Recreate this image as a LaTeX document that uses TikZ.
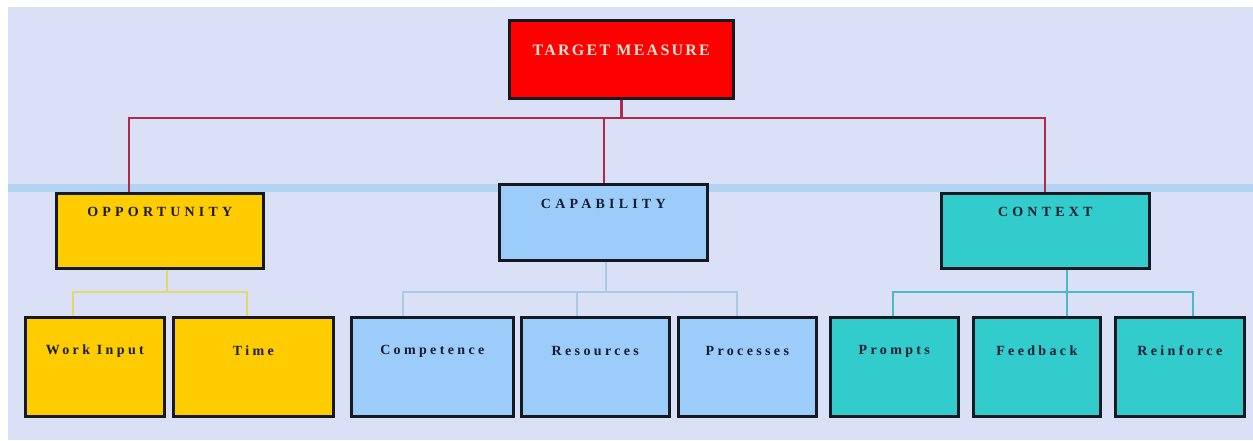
\documentclass[tikz,border=0pt]{standalone}
\usepackage{fontspec}
\setmainfont{Liberation Serif}
\newfontfamily\spacedA{Liberation Serif}[LetterSpace=30]
\newfontfamily\spacedL{Liberation Serif}[LetterSpace=24]
\newfontfamily\spacedB{Liberation Serif}[LetterSpace=14]
\definecolor{bgc}{RGB}{218,224,245}
\definecolor{bandc}{RGB}{178,212,242}
\definecolor{redfill}{RGB}{255,0,0}
\definecolor{goldfill}{RGB}{255,204,0}
\definecolor{bluefill}{RGB}{156,204,250}
\definecolor{tealfill}{RGB}{51,204,204}
\definecolor{redline}{RGB}{178,40,72}
\definecolor{yelline}{RGB}{230,216,106}
\definecolor{bluline}{RGB}{166,203,230}
\definecolor{tealine}{RGB}{79,184,200}
\definecolor{boxedge}{RGB}{22,24,34}
\definecolor{txtdark}{RGB}{24,28,48}
\definecolor{txtlight}{RGB}{248,230,214}
\tikzset{
  box/.style={draw=boxedge, line width=2.6pt, rectangle, anchor=north west, inner sep=0pt},
  headtxt/.style={font=\spacedA\bfseries\fontsize{14}{16}\selectfont, text=txtdark, inner sep=0pt},
  leaftxt/.style={font=\spacedL\bfseries\fontsize{14}{16}\selectfont, text=txtdark, inner sep=0pt},
  toptxt/.style={font=\spacedB\bfseries\fontsize{16}{18}\selectfont, text=txtlight, inner sep=0pt},
  redcon/.style={draw=redline, line width=2.8pt},
  yelcon/.style={draw=yelline, line width=2pt},
  blucon/.style={draw=bluline, line width=1.6pt},
  tealcon/.style={draw=tealine, line width=1.6pt}
}
\begin{document}
\begin{tikzpicture}[x=1pt,y=-1pt]
\useasboundingbox (0,0) rectangle (1253,440);
\fill[white] (0,0) rectangle (1253,440);
\fill[bgc] (8,7) rectangle (1253,440);
\fill[bandc] (8,184) rectangle (1253,192);

% nodes
\node[box, fill=redfill, minimum width=224pt, minimum height=78pt] (tgt) at (508,19) {};
\node[toptxt] (tgt-t) at ([yshift=-31pt]tgt.north) {TARGET MEASURE};

\node[box, fill=goldfill, minimum width=207pt, minimum height=75pt] (opp) at (55,192) {};
\node[headtxt] (opp-t) at ([yshift=-20pt]opp.north) {OPPORTUNITY};
\node[box, fill=bluefill, minimum width=208pt, minimum height=76pt] (cap) at (498,183) {};
\node[headtxt] (cap-t) at ([yshift=-21pt]cap.north) {CAPABILITY};
\node[box, fill=tealfill, minimum width=208pt, minimum height=75pt] (ctx) at (940,192) {};
\node[headtxt] (ctx-t) at ([yshift=-20pt]ctx.north) {CONTEXT};

\node[box, fill=goldfill, minimum width=139pt, minimum height=99pt] (wi) at (24,316) {};
\node[leaftxt] (wi-t) at ([yshift=-35pt]wi.north) {Work Input};
\node[box, fill=goldfill, minimum width=160pt, minimum height=99pt] (time) at (172,316) {};
\node[leaftxt] (time-t) at ([yshift=-35pt]time.north) {Time};

\node[box, fill=bluefill, minimum width=162pt, minimum height=99pt] (comp) at (350,316) {};
\node[leaftxt] (comp-t) at ([yshift=-35pt]comp.north) {Competence};
\node[box, fill=bluefill, minimum width=148pt, minimum height=99pt] (res) at (520,316) {};
\node[leaftxt] (res-t) at ([yshift=-35pt]res.north) {Resources};
\node[box, fill=bluefill, minimum width=138pt, minimum height=99pt] (proc) at (677,316) {};
\node[leaftxt] (proc-t) at ([yshift=-35pt]proc.north) {Processes};

\node[box, fill=tealfill, minimum width=128pt, minimum height=99pt] (prom) at (829,316) {};
\node[leaftxt] (prom-t) at ([yshift=-35pt]prom.north) {Prompts};
\node[box, fill=tealfill, minimum width=127pt, minimum height=99pt] (feed) at (972,316) {};
\node[leaftxt] (feed-t) at ([yshift=-35pt]feed.north) {Feedback};
\node[box, fill=tealfill, minimum width=129pt, minimum height=99pt] (rein) at (1114,316) {};
\node[leaftxt] (rein-t) at ([yshift=-35pt]rein.north) {Reinforce};

% bus coordinates
\coordinate (rb1) at (129,118);
\coordinate (rb2) at (604,118);
\coordinate (rb3) at (1045,118);
\coordinate (yb0) at (167,292);
\coordinate (yb1) at (73,292);
\coordinate (yb2) at (247,292);
\coordinate (bb0) at (606,292);
\coordinate (bb1) at (403,292);
\coordinate (bb2) at (577,292);
\coordinate (bb3) at (737,292);
\coordinate (tb0) at (1067,292);
\coordinate (tb1) at (893,292);
\coordinate (tb3) at (1193,292);

% connectors
\draw[redcon] (tgt.south) -- (tgt.south |- rb2);
\draw[redcon] (opp.north -| rb1) |- (rb3) -- (ctx.north -| rb3);
\draw[redcon] (rb2) -- (cap.north -| rb2);

\draw[yelcon] (opp.south -| yb0) -- (yb0);
\draw[yelcon] (wi.north -| yb1) |- (yb2) -- (time.north -| yb2);

\draw[blucon] (cap.south -| bb0) -- (bb0);
\draw[blucon] (comp.north -| bb1) |- (bb3) -- (proc.north -| bb3);
\draw[blucon] (bb2) -- (res.north -| bb2);

\draw[tealcon] (ctx.south -| tb0) -- (feed.north -| tb0);
\draw[tealcon] (prom.north -| tb1) |- (tb3) -- (rein.north -| tb3);
\end{tikzpicture}
\end{document}
